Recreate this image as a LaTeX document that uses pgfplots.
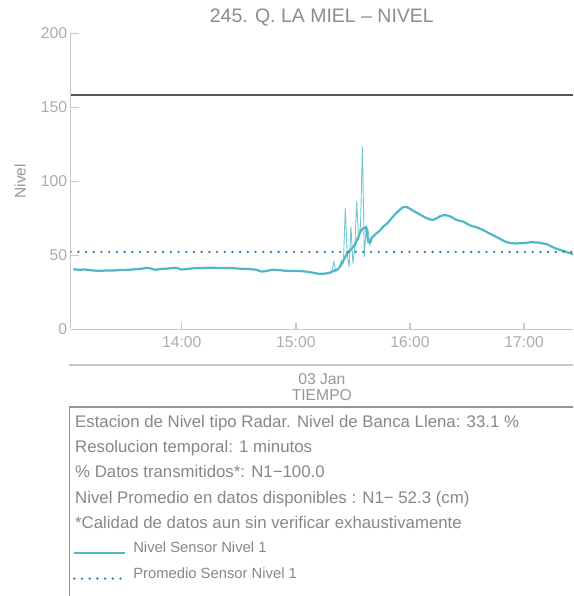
\documentclass[border=0pt]{standalone}
\usepackage{fontspec}
\setmainfont{Liberation Sans}
\usepackage{pgfplots}
\pgfplotsset{compat=1.18}

\definecolor{nivel}{RGB}{79,183,197}
\definecolor{promedio}{RGB}{45,122,165}
\definecolor{banca}{RGB}{85,85,85}
\definecolor{ejes}{RGB}{200,200,200}
\definecolor{ticks}{RGB}{172,172,172}
\definecolor{rotulo}{RGB}{150,150,150}
\definecolor{titulo}{RGB}{140,140,140}
\definecolor{texto}{RGB}{135,135,135}

% minutos desde las 13:00
\pgfplotstableread{
t v
3 40.6
6 40.2
9 40.4
12 39.9
15 39.6
18 39.5
21 39.8
24 39.7
27 40.0
30 40.1
33 40.3
36 40.6
39 41.0
42 41.5
44 41.0
46 40.2
48 40.6
51 40.9
54 41.2
57 41.6
60 40.4
63 40.8
66 41.2
69 41.4
72 41.5
75 41.6
78 41.5
81 41.4
84 41.5
87 41.3
90 41.0
93 40.9
96 40.6
99 40.3
102 39.0
104 39.3
106 39.8
108 40.3
111 40.0
114 39.6
117 39.4
120 39.5
123 39.3
126 38.9
129 38.2
132 37.5
135 37.6
138 38.3
140 39.5
142 40.5
143 42.0
144 44.0
145 46.5
146 49.0
147 51.5
148 52.5
149 54.0
150 55.5
151 57.0
152 60.0
153 63.0
154 66.0
155 68.0
156 68.5
157 69.0
158 59.0
159 58.5
160 62.0
162 64.5
164 66.5
166 69.5
168 71.5
170 74.5
172 77.5
174 80.0
176 82.3
178 82.8
180 81.5
182 79.8
184 78.5
186 77.0
188 75.5
190 74.5
192 73.8
194 75.0
196 76.5
198 77.2
200 76.8
202 75.8
204 74.2
206 73.3
208 72.8
210 71.3
212 70.0
214 69.3
216 68.5
218 67.3
220 66.0
222 64.6
224 63.4
226 62.0
228 60.6
230 59.3
232 58.5
234 58.1
236 58.0
238 58.2
240 58.3
242 58.6
244 58.9
246 58.7
248 58.5
250 58.0
252 57.5
254 56.2
256 55.0
258 54.0
260 53.2
262 52.4
264 51.5
265.7 50.8
}\nivel

\pgfplotstableread{
t v
138 38.3
139 39.2
140 45.7
141 39.0
142 40.6
143 42.0
144 46.8
145 45.0
146 81.7
147 50.5
148 42.0
149 69.3
150 44.6
151 56.0
152 86.2
153 60.3
154 70.5
155 123.4
156 49.0
157 69.3
158 67.0
159 57.0
160 62.0
}\picos

\begin{document}
\begin{tikzpicture}[x=1pt,y=1pt]
\useasboundingbox (0,-596) rectangle (573,0);
\clip (0,-596) rectangle (573,0);
\begin{axis}[
  at={(70.7pt,-329.3pt)}, anchor=south west,
  scale only axis, width=502.3pt, height=296pt,
  xmin=1.64, xmax=265.7, ymin=0, ymax=200,
  axis lines*=left,
  axis line style={draw=ejes, line width=1.3pt, -},
  tick align=inside,
  tick style={draw=ejes, line width=1.3pt},
  xtick style={/pgfplots/major tick length=6pt},
  ytick style={/pgfplots/major tick length=8pt},
  xtick={60,120,180,240},
  xticklabels={14:00,15:00,16:00,17:00},
  ytick={0,50,100,150,200},
  /pgf/number format/assume math mode=true,
  ticklabel style={font=\fontsize{15.7}{16}\selectfont, text=ticks},
  xticklabel style={yshift=-3.8pt},
  title={245. Q. LA MIEL – NIVEL},
  title style={at={(axis description cs:0.5,1)}, anchor=base, yshift=4.8pt,
    font=\fontsize{19.5}{20}\selectfont, text=titulo},
  ylabel={Nivel},
  ylabel style={at={(axis description cs:-0.101,0.5)}, anchor=center,
    font=\fontsize{15.5}{16}\selectfont, text=rotulo},
  xlabel={03 Jan\\TIEMPO},
  xlabel style={align=center, at={(axis description cs:0.5,0)}, anchor=north,
    yshift=-43.7pt, inner sep=0pt, font=\fontsize{15.7}{16}\selectfont, text=rotulo},
  legend cell align=left,
  legend image code/.code={\draw[#1] (0pt,0pt) -- (51pt,0pt);},
  legend style={at={(axis description cs:0.0046,-0.7122)}, anchor=north west,
    draw=none, fill=none, inner sep=0pt, outer sep=0pt,
    row sep=9.5pt, column sep=4.7pt,
    font=\fontsize{14.8}{15}\selectfont, text=texto,
    cells={anchor=base west, inner sep=0pt}},
]
\addplot[draw=banca, line width=2.5pt, forget plot] coordinates {(1.64,158.3) (265.7,158.3)};
\addplot[draw=nivel, line width=0.9pt, opacity=0.8, forget plot] table[x=t, y=v] {\picos};
\addplot[draw=nivel, line width=2.2pt, line join=round] table[x=t, y=v] {\nivel};
\addlegendentry{Nivel Sensor Nivel 1}
\addplot[draw=promedio, line width=2.6pt, line cap=round, dash pattern=on 0pt off 7.7pt] coordinates {(1.64,52.3) (265.7,52.3)};
\addlegendentry{Promedio Sensor Nivel 1}
\end{axis}

\draw[draw=ejes, line width=1.5pt] (69.4,-365) -- (580,-365);
\draw[draw=rotulo, line width=1.5pt] (69.3,-407) rectangle (600,-620);

\begin{scope}[every node/.style={anchor=base west, inner sep=0pt, text=texto,
    font=\fontsize{16.8}{17}\selectfont}]
\node at (75,-427.5) {Estacion de Nivel tipo Radar. Nivel de Banca Llena: 33.1 \%};
\node at (75,-452.7) {Resolucion temporal: 1 minutos};
\node at (75,-477.9) {\% Datos transmitidos*: N1−100.0};
\node at (75,-503.1) {Nivel Promedio en datos disponibles : N1− 52.3 (cm)};
\node at (75,-528.3) {*Calidad de datos aun sin verificar exhaustivamente};
\end{scope}
\end{tikzpicture}
\end{document}
